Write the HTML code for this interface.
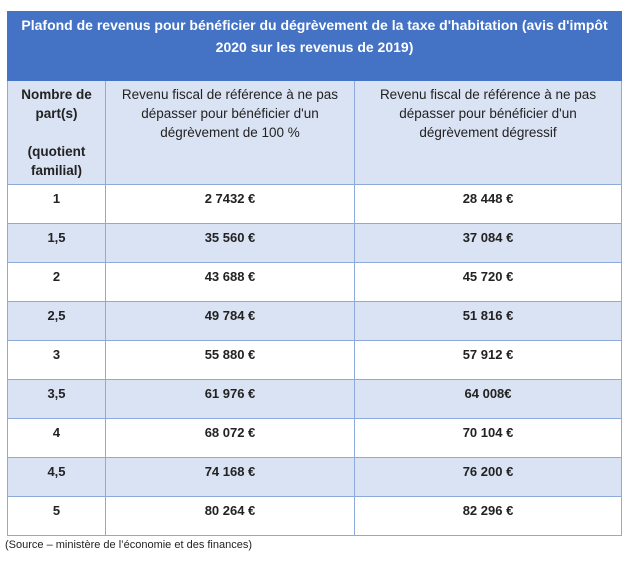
<!DOCTYPE html>
<html><head><meta charset="utf-8"><style>
body{margin:0;background:#fff;width:632px;height:565px;position:relative;font-family:"Liberation Sans",sans-serif;}
.t{position:absolute;left:7px;top:11px;width:614px;border-collapse:collapse;table-layout:fixed;}
.t td{border:1px solid #8eaadb;vertical-align:top;text-align:center;color:#222;font-size:13px;padding:0;}
.h td{background:#4472c4;color:#fff;font-weight:bold;font-size:14px;height:66px;padding:2px 6px 0;line-height:22px;border-color:#4472c4;}
.hd td{background:#dae3f3;height:99px;line-height:19px;padding-top:4px;font-size:13.5px;}
.hd td:first-child{font-weight:bold;}
.hd td.c3{padding-left:18px;padding-right:18px;}
.r td{height:32px;font-weight:bold;padding-top:6px;line-height:16px;}
.r.b td{background:#dae3f3;}
.src{position:absolute;left:5px;top:539px;font-size:11px;color:#222;}
</style></head><body>
<table class="t">
<colgroup><col style="width:98px"><col style="width:249px"><col style="width:267px"></colgroup>
<tr class="h"><td colspan="3">Plafond de revenus pour bénéficier du dégrèvement de la taxe d'habitation (avis d'impôt 2020 sur les revenus de 2019)</td></tr>
<tr class="hd"><td>Nombre de part(s)<br><br>(quotient familial)</td><td>Revenu fiscal de référence à ne pas dépasser pour bénéficier d'un dégrèvement de 100 %</td><td class="c3">Revenu fiscal de référence à ne pas dépasser pour bénéficier d'un dégrèvement dégressif</td></tr>
<tr class="r"><td>1</td><td>2 7432 €</td><td>28 448 €</td></tr>
<tr class="r b"><td>1,5</td><td>35 560 €</td><td>37 084 €</td></tr>
<tr class="r"><td>2</td><td>43 688 €</td><td>45 720 €</td></tr>
<tr class="r b"><td>2,5</td><td>49 784 €</td><td>51 816 €</td></tr>
<tr class="r"><td>3</td><td>55 880 €</td><td>57 912 €</td></tr>
<tr class="r b"><td>3,5</td><td>61 976 €</td><td>64 008€</td></tr>
<tr class="r"><td>4</td><td>68 072 €</td><td>70 104 €</td></tr>
<tr class="r b"><td>4,5</td><td>74 168 €</td><td>76 200 €</td></tr>
<tr class="r"><td>5</td><td>80 264 €</td><td>82 296 €</td></tr>
</table>
<div class="src">(Source – ministère de l’économie et des finances)</div>
</body></html>
